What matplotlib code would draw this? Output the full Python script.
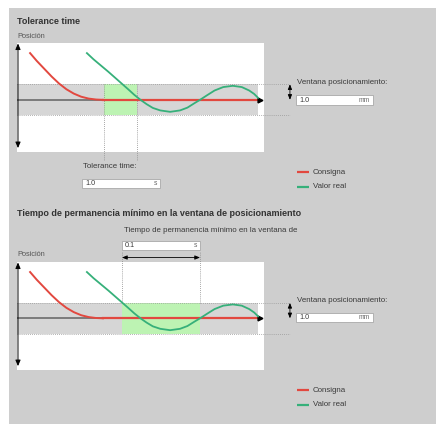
import matplotlib
matplotlib.use("Agg")
import matplotlib.pyplot as plt
from matplotlib.patches import Rectangle

plt.rcParams['font.family'] = ['Liberation Sans', 'DejaVu Sans']

# ---- curve data (time units 0..100, position in mm, window = +/-1 mm) ----
setpoint_t = [5.3, 8, 11, 14, 17, 20, 23, 26, 29, 32, 34.8]
setpoint_p = [3.0, 2.5, 2.0, 1.5, 1.05, 0.68, 0.4, 0.2, 0.08, 0.02, 0.0]
setpoint_end = 97.6

actual_t = [28.3, 31, 34, 37, 40, 42.5, 45, 47.5, 50, 52.5, 55, 58, 62, 66, 69,
            72, 74.1, 77, 80, 83.5, 87.4, 91, 94, 96, 97.6]
actual_p = [3.0, 2.6, 2.2, 1.8, 1.38, 1.03, 0.68, 0.32, 0.0, -0.28, -0.52, -0.68,
            -0.77, -0.68, -0.5, -0.2, 0.0, 0.3, 0.6, 0.82, 0.9, 0.82, 0.6, 0.38, 0.13]

window_mm = 1.0
tolerance_span = (35.2, 48.6)   # tolerance time highlight
dwell_span = (42.5, 74.1)       # minimum dwell time highlight

title_1 = "Tolerance time"
title_2 = "Tiempo de permanencia mínimo en la ventana de posicionamiento"
axis_label = "Posición"
window_label = "Ventana posicionamiento:"
legend_labels = ["Consigna", "Valor real"]

RED = "#e2483f"
GREEN = "#36b07a"
BG = "#cecece"
BAND = "#d6d6d6"
HIGHLIGHT = "#bdf3b3"
TXT = "#3a3a3a"
LBL = 5.7

W, H = 436, 424
fig = plt.figure(figsize=(W / 100, H / 100), dpi=100)
fig.patch.set_facecolor("white")

# background panel (pixel coordinates)
bg = fig.add_axes([0, 0, 1, 1], zorder=0)
bg.set_xlim(0, W); bg.set_ylim(H, 0); bg.axis("off")
bg.add_patch(Rectangle((9, 8), W - 9, H - 8, color=BG, lw=0))

# overlay for texts and input fields (pixel coordinates)
ov = fig.add_axes([0, 0, 1, 1], zorder=3)
ov.set_xlim(0, W); ov.set_ylim(H, 0); ov.axis("off")
ov.patch.set_alpha(0)


def input_box(x0, x1, y0, y1, value, unit):
    ov.add_patch(Rectangle((x0, y0), x1 - x0, y1 - y0, facecolor="white",
                           edgecolor="#a8a8a8", lw=0.6))
    ov.text(x0 + 3, (y0 + y1) / 2, value, fontsize=5.2, color=TXT, va="center")
    ov.text(x1 - 3, (y0 + y1) / 2, unit, fontsize=4.8, color="#666666",
            va="center", ha="right")


def legend(y):
    ov.plot([297, 309], [y, y], color=RED, lw=1.6, solid_capstyle="butt")
    ov.text(313, y, legend_labels[0], fontsize=LBL, color=TXT, va="center")
    ov.plot([297, 309], [y + 15, y + 15], color=GREEN, lw=1.6, solid_capstyle="butt")
    ov.text(313, y + 15, legend_labels[1], fontsize=LBL, color=TXT, va="center")


def chart(top, bottom, span):
    ax = fig.add_axes([17 / W, 1 - bottom / H, 247 / W, (bottom - top) / H], zorder=1)
    ax.set_xlim(0, 100)
    ax.set_ylim(-3.35, 3.65)
    ax.set_facecolor("white")
    for s in ax.spines.values():
        s.set_visible(False)
    ax.set_xticks([]); ax.set_yticks([])
    # positioning window band
    ax.fill_between([0, setpoint_end], -window_mm, window_mm, color=BAND, lw=0, zorder=1)
    ax.fill_between(span, -window_mm, window_mm, color=HIGHLIGHT, lw=0, zorder=2)
    for yy in (-window_mm, window_mm):
        ax.plot([0, 110.5], [yy, yy], color="#9a9a9a", lw=0.6, ls=(0, (1, 1.5)),
                clip_on=False, zorder=3)
    # target line
    ax.plot([0, setpoint_t[-1]], [0, 0], color="#6c6c6c", lw=1.2, zorder=4)
    ax.plot(setpoint_t, setpoint_p, color=RED, lw=1.4, zorder=5)
    ax.plot([setpoint_t[-1], setpoint_end], [0, 0], color=RED, lw=1.6, zorder=5)
    ax.plot([setpoint_end + 0.6], [0], marker=">", color="black", ms=3.5,
            clip_on=False, zorder=6)
    ax.plot(actual_t, actual_p, color=GREEN, lw=1.3, zorder=6)
    # position axis
    ax.annotate("", xy=(0.4, 3.62), xytext=(0.4, -3.1),
                arrowprops=dict(arrowstyle="<|-|>,head_length=0.35,head_width=0.15",
                                color="black", lw=0.7, shrinkA=0, shrinkB=0),
                annotation_clip=False, zorder=7)
    # window size marker
    ax.annotate("", xy=(110.5, window_mm), xytext=(110.5, 0),
                arrowprops=dict(arrowstyle="<|-|>,head_length=0.3,head_width=0.12",
                                color="black", lw=0.6, shrinkA=0, shrinkB=0),
                annotation_clip=False, zorder=7)
    return ax


# ---- Section 1: tolerance time ----
ov.text(17, 22, title_1, fontsize=6.45, fontweight="bold", color="#333333", va="center")
ov.text(17, 37, axis_label, fontsize=5.3, color="#555555", va="center")
ax1 = chart(43, 152, tolerance_span)
for t in tolerance_span:
    ax1.plot([t, t], [window_mm, -3.87], color="#8a8a8a", lw=0.6, ls=(0, (1, 1.5)),
             clip_on=False, zorder=3)
ov.text(83, 167, "Tolerance time:", fontsize=LBL, color=TXT, va="center")
input_box(82, 160, 179, 188, "1.0", "s")
ov.text(297, 83, window_label, fontsize=LBL, color=TXT, va="center")
input_box(296, 373, 95, 105, "1.0", "mm")
legend(172)

# ---- Section 2: minimum dwell time in the window ----
ov.text(17, 214, title_2, fontsize=6.45, fontweight="bold", color="#333333", va="center")
ov.text(124, 230, "Tiempo de permanencia mínimo en la ventana de", fontsize=LBL,
        color=TXT, va="center")
input_box(122, 200, 241, 250, "0.1", "s")
ov.text(17, 254, axis_label, fontsize=5.3, color="#555555", va="center")
ax2 = chart(262, 370, dwell_span)
for t in dwell_span:
    ax2.plot([t, t], [window_mm, 4.39], color="#8a8a8a", lw=0.6, ls=(0, (1, 1.5)),
             clip_on=False, zorder=3)
ax2.annotate("", xy=(dwell_span[0], 3.94), xytext=(dwell_span[1], 3.94),
             arrowprops=dict(arrowstyle="<|-|>,head_length=0.3,head_width=0.12",
                             color="black", lw=0.6, shrinkA=0, shrinkB=0),
             annotation_clip=False, zorder=7)
ov.text(297, 301, window_label, fontsize=LBL, color=TXT, va="center")
input_box(296, 373, 313, 322, "1.0", "mm")
legend(390)

fig.savefig("out.png", dpi=100, facecolor=fig.get_facecolor())
